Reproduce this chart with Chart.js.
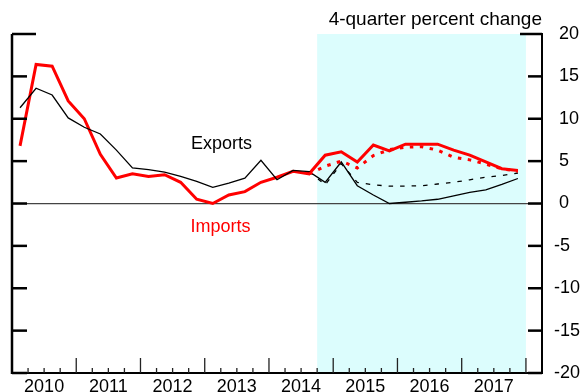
<!DOCTYPE html>
<html>
<head>
<meta charset="utf-8">
<title>Exports and imports</title>
<script src="https://cdn.jsdelivr.net/npm/chart.js@4.4.1/dist/chart.umd.min.js"></script>
<style>
  html, body { margin: 0; padding: 0; background: #fff; }
  #chart { display: block; }
</style>
</head>
<body>
<canvas id="chart" width="584" height="392"></canvas>
<script>
// year labels under the x axis, one per 4 quarters starting 2010Q1
const years = ['2010', '2011', '2012', '2013', '2014', '2015', '2016', '2017'];

// 4-quarter percent change, 2010Q1 - 2017Q4
const exportsVals = [11.3, 13.6, 12.8, 10.1, 9.0, 8.2, 6.3, 4.2, 4.0, 3.7, 3.2, 2.6, 1.9, 2.4, 3.0, 5.1,
                     2.8, 3.9, 3.75, 2.5, 4.9, 2.1, 1.0, 0.0, 0.15, 0.3, 0.5, 0.9, 1.3, 1.6, 2.25, 2.95];
const importsVals = [6.8, 16.4, 16.2, 12.1, 10.0, 5.8, 3.0, 3.5, 3.2, 3.4, 2.5, 0.5, 0.0, 1.0, 1.4, 2.5,
                     3.1, 3.8, 3.5, 5.7, 6.1, 4.9, 6.9, 6.2, 7.0, 7.0, 7.0, 6.3, 5.7, 4.9, 4.1, 3.9];

// earlier projection, from 2014Q3 on
const altStart = 18;
const exportsAlt = [3.75, 2.2, 4.7, 2.5, 2.2, 2.05, 2.05, 2.1, 2.3, 2.5, 2.8, 3.1, 3.3, 3.6];
const importsAlt = [3.5, 4.4, 5.0, 4.2, 5.65, 6.35, 6.65, 6.7, 6.3, 5.45, 5.15, 4.65, 4.1, 3.8];

// projection period in quarter units (2014Q4 through 2017Q4)
const shadeFrom = 19;
const shadeTo = 32;

const FONT = 'Arial, "Liberation Sans", Helvetica, sans-serif';

const toPoints = (vals, start) => vals.map((v, i) => ({ x: start + i + 0.5, y: v }));

const projectionShade = {
    id: 'projectionShade',
    beforeDraw(chart) {
        const { ctx, chartArea: a, scales: { x } } = chart;
        const x0 = x.getPixelForValue(shadeFrom);
        const x1 = x.getPixelForValue(shadeTo);
        ctx.save();
        ctx.fillStyle = '#dcfdfd';
        ctx.fillRect(x0, a.top, x1 - x0, a.bottom - a.top);
        ctx.restore();
    }
};

// inward tick marks and the left axis line
const axisTicks = {
    id: 'axisTicks',
    afterDraw(chart) {
        const { ctx, chartArea: a, scales: { x, y } } = chart;
        const line = (x0, y0, x1, y1) => {
            ctx.beginPath();
            ctx.moveTo(x0, y0);
            ctx.lineTo(x1, y1);
            ctx.stroke();
        };
        ctx.save();
        ctx.strokeStyle = '#000';
        ctx.lineWidth = 2.5;
        line(a.left, a.top, a.left, a.bottom + 1);

        y.ticks.forEach(t => {
            const py = y.getPixelForValue(t.value);
            const top = t.value === 20;
            line(a.left, py, a.left + (top ? 24 : 15), py);
            line(a.right, py, a.right - (top ? 22 : 14), py);
        });

        ctx.lineWidth = 1.3;
        ctx.strokeStyle = '#222';
        for (let q = 1; q < 33; q++) {
            const px = x.getPixelForValue(q);
            line(px, a.bottom, px, a.bottom - (q % 4 === 0 ? 15 : 5));
        }
        ctx.restore();
    }
};

const seriesLabels = {
    id: 'seriesLabels',
    afterDatasetsDraw(chart) {
        const { ctx, scales: { x, y } } = chart;
        ctx.save();
        ctx.font = '18px ' + FONT;
        ctx.textAlign = 'center';
        ctx.textBaseline = 'middle';
        ctx.fillStyle = '#000';
        ctx.fillText('Exports', x.getPixelForValue(13.04), y.getPixelForValue(7.0));
        ctx.fillStyle = '#ff0000';
        ctx.fillText('Imports', x.getPixelForValue(12.98), y.getPixelForValue(-2.77));
        ctx.restore();
    }
};

const ctx = document.getElementById('chart').getContext('2d');

new Chart(ctx, {
    type: 'line',
    data: {
        datasets: [
            {
                label: 'Imports, earlier projection',
                data: toPoints(importsAlt, altStart),
                borderColor: '#ff0000',
                borderWidth: 3,
                borderDash: [3.5, 6.5]
            },
            {
                label: 'Exports, earlier projection',
                data: toPoints(exportsAlt, altStart),
                borderColor: '#000',
                borderWidth: 1.3,
                borderDash: [4.5, 7]
            },
            {
                label: 'Exports',
                data: toPoints(exportsVals, 0),
                borderColor: '#000',
                borderWidth: 1.3
            },
            {
                label: 'Imports',
                data: toPoints(importsVals, 0),
                borderColor: '#ff0000',
                borderWidth: 3
            }
        ]
    },
    options: {
        responsive: false,
        animation: false,
        elements: {
            point: { radius: 0 },
            line: { tension: 0, fill: false }
        },
        layout: { padding: { left: 12 } },
        plugins: {
            legend: { display: false },
            tooltip: { enabled: false },
            title: {
                display: true,
                text: '4-quarter percent change',
                align: 'end',
                fullSize: false,
                color: '#000',
                font: { family: FONT, size: 19, weight: 'normal' },
                padding: { top: 8.3, bottom: 2.9 }
            }
        },
        scales: {
            x: {
                type: 'linear',
                min: 0,
                max: 33,
                afterBuildTicks: scale => {
                    scale.ticks = years.map((yr, i) => ({ value: i * 4 + 2 }));
                },
                afterFit: scale => {
                    scale.height = 19;
                    scale.paddingLeft = 0;
                    scale.paddingRight = 0;
                },
                ticks: {
                    autoSkip: false,
                    maxRotation: 0,
                    padding: -5,
                    color: '#000',
                    font: { family: FONT, size: 18 },
                    callback: value => years[(value - 2) / 4]
                },
                grid: { display: false },
                border: { color: '#000', width: 2 }
            },
            y: {
                position: 'right',
                min: -20,
                max: 20,
                afterFit: scale => {
                    scale.width = 42;
                    scale.paddingTop = 0;
                    scale.paddingBottom = 0;
                },
                ticks: {
                    stepSize: 5,
                    padding: 12,
                    color: '#000',
                    font: { family: FONT, size: 18 },
                    callback: value => (value < 0 ? String(value) : ' ' + value)
                },
                grid: {
                    drawTicks: false,
                    lineWidth: 1.2,
                    color: c => (c.tick && c.tick.value === 0 ? '#444' : 'rgba(0,0,0,0)')
                },
                border: { color: '#000', width: 2 }
            }
        }
    },
    plugins: [projectionShade, axisTicks, seriesLabels]
});
</script>
</body>
</html>
